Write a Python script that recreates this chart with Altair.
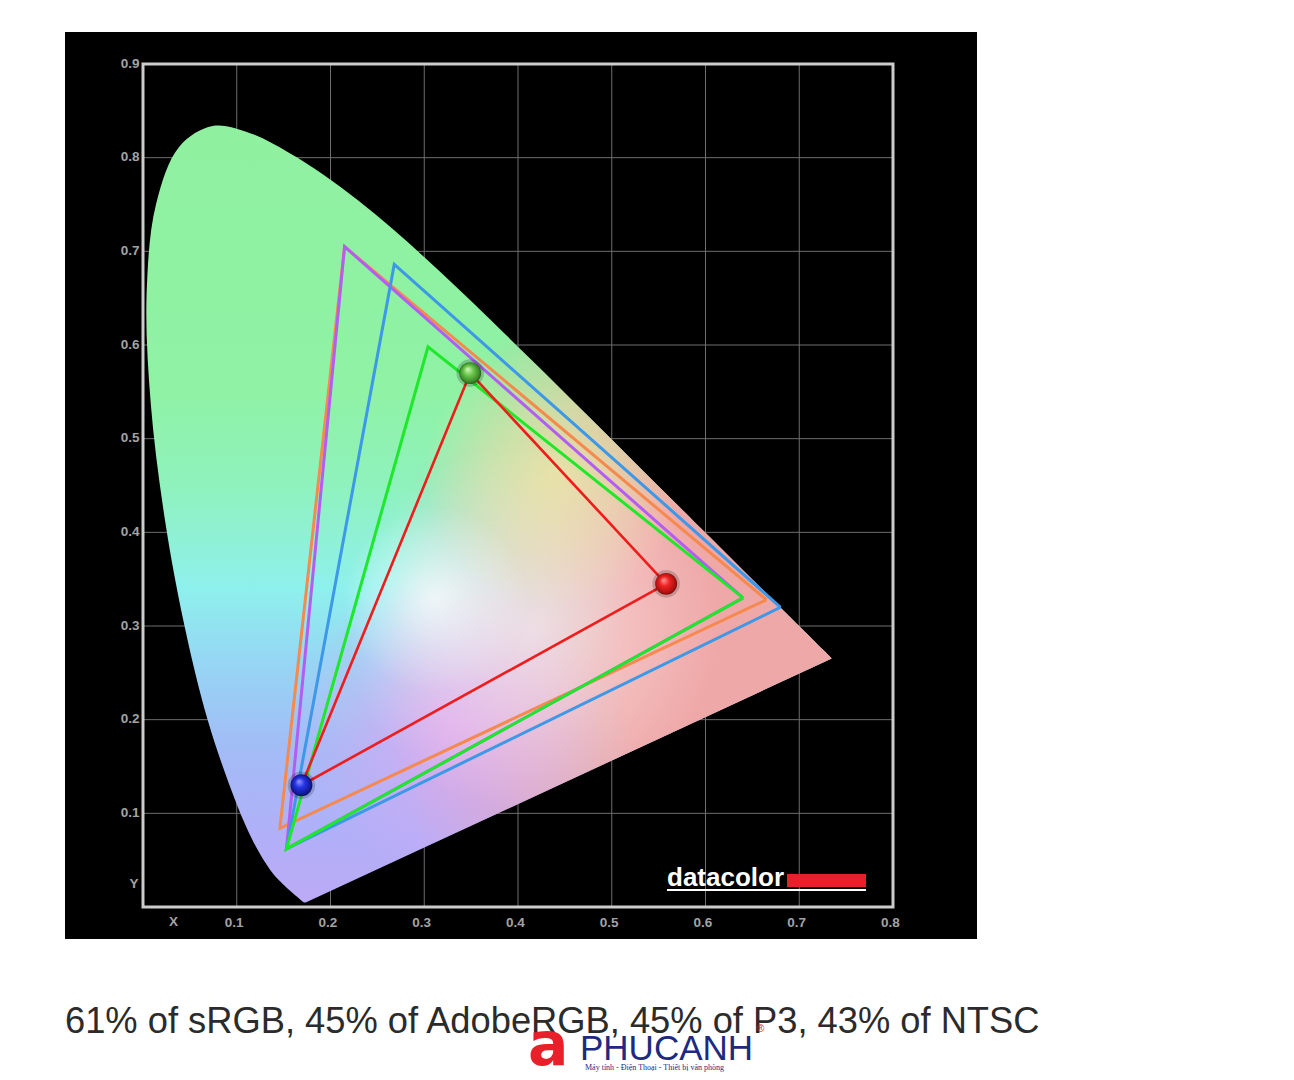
import altair as alt
import pandas as pd

# ---------------- data ----------------
# CIE 1931 spectral locus (read off the horseshoe)
locus_nm = [380, 400, 420, 430, 440, 450, 460, 465, 470, 475, 480, 485, 490, 495,
            500, 505, 510, 515, 520, 525, 530, 535, 540, 545, 550, 555, 560, 565,
            570, 575, 580, 585, 590, 595, 600, 610, 620, 630, 640, 650, 700]
locus_x = [0.1741, 0.1733, 0.1714, 0.1689, 0.1644, 0.1566, 0.1440, 0.1355, 0.1241,
           0.1096, 0.0913, 0.0687, 0.0454, 0.0235, 0.0082, 0.0039, 0.0139, 0.0389,
           0.0743, 0.1142, 0.1547, 0.1929, 0.2296, 0.2658, 0.3016, 0.3373, 0.3731,
           0.4087, 0.4441, 0.4788, 0.5125, 0.5448, 0.5752, 0.6029, 0.6270, 0.6658,
           0.6915, 0.7079, 0.7190, 0.7260, 0.7347]
locus_y = [0.0050, 0.0048, 0.0051, 0.0069, 0.0109, 0.0177, 0.0297, 0.0399, 0.0578,
           0.0868, 0.1327, 0.2007, 0.2950, 0.4127, 0.5384, 0.6548, 0.7502, 0.8120,
           0.8338, 0.8262, 0.8059, 0.7816, 0.7543, 0.7243, 0.6923, 0.6589, 0.6245,
           0.5896, 0.5547, 0.5202, 0.4866, 0.4544, 0.4242, 0.3965, 0.3725, 0.3340,
           0.3083, 0.2920, 0.2809, 0.2740, 0.2653]

# gamut triangles (draw order)
gamut_names = ["NTSC", "AdobeRGB", "P3", "sRGB", "Display"]
gamut_colors = ["#f5894e", "#b25ef2", "#3d98e8", "#1ee82a", "#f01c1c"]
red_x = [0.665, 0.640, 0.680, 0.640, 0.558]
red_y = [0.328, 0.330, 0.320, 0.330, 0.345]
green_x = [0.215, 0.215, 0.268, 0.304, 0.349]
green_y = [0.705, 0.705, 0.686, 0.598, 0.570]
blue_x = [0.146, 0.153, 0.153, 0.153, 0.169]
blue_y = [0.084, 0.062, 0.062, 0.062, 0.130]

x_ticks = [0.1, 0.2, 0.3, 0.4, 0.5, 0.6, 0.7, 0.8]
y_ticks = [0.1, 0.2, 0.3, 0.4, 0.5, 0.6, 0.7, 0.8, 0.9]
grid_x = [0.1, 0.2, 0.3, 0.4, 0.5, 0.6, 0.7]
grid_y = [0.1, 0.2, 0.3, 0.4, 0.5, 0.6, 0.7, 0.8]

caption = "61% of sRGB, 45% of AdobeRGB, 45% of P3, 43% of NTSC"
brand = "datacolor"
wm_name = "PHUCANH"
wm_sub = "Máy tính - Điện Thoại - Thiết bị văn phòng"

# ---------------- tables ----------------
df_locus = pd.DataFrame({"i": list(range(len(locus_nm))), "nm": locus_nm,
                         "x": locus_x, "y": locus_y})
rows = []
for k, n in enumerate(gamut_names):
    pts = [(red_x[k], red_y[k]), (green_x[k], green_y[k]),
           (blue_x[k], blue_y[k]), (red_x[k], red_y[k])]
    for j, (px, py) in enumerate(pts):
        rows.append({"name": n, "o": j, "x": px, "y": py})
df_tri = pd.DataFrame(rows)
one = pd.DataFrame({"a": [0]})

W, H = 750, 843
xs = alt.Scale(domain=[0, 0.8], nice=False, zero=False)
ys = alt.Scale(domain=[0, 0.9], nice=False, zero=False)
LBL = "#a3a3a3"
common = dict(grid=False, domain=False, ticks=False, labelFlush=False, labelOverlap=False,
              labelColor=LBL, labelFont="Liberation Sans", labelFontSize=13.5,
              labelFontWeight="bold", titleColor=LBL, titleFont="Liberation Sans",
              titleFontSize=13.5, titleFontWeight="bold", zindex=1, format=".1f")
xaxis = alt.Axis(values=x_ticks, labelPadding=8, labelOffset=-3, title="X",
                 titleX=30, titleY=14, titleBaseline="middle", titleAlign="center",
                 **common)
yaxis = alt.Axis(values=y_ticks, labelPadding=4, labelOffset=-1, title="Y", titleAngle=0,
                 titleX=-5, titleY=819, titleBaseline="middle", titleAlign="right",
                 **common)


def X(f):
    return alt.X(f, type="quantitative", scale=xs, axis=xaxis)


def Y(f):
    return alt.Y(f, type="quantitative", scale=ys, axis=yaxis)


def stops(lst):
    return [alt.GradientStop(offset=o, color=c) for o, c in lst]


layers = []

# black panel
layers.append(alt.Chart(one).mark_rect(color="black").encode(
    x=alt.value(-78), x2=alt.value(834), y=alt.value(-32), y2=alt.value(875)))

# grid
layers.append(alt.Chart(pd.DataFrame({"x": grid_x})).mark_rule(
    color="#6e6e6e", strokeWidth=1).encode(x=X("x")))
layers.append(alt.Chart(pd.DataFrame({"y": grid_y})).mark_rule(
    color="#6e6e6e", strokeWidth=1).encode(y=Y("y")))

# frame
layers.append(alt.Chart(pd.DataFrame({"x0": [0.0], "x1": [0.8], "y0": [0.0], "y1": [0.9]}))
              .mark_rect(filled=False, stroke="#cccccc", strokeWidth=3)
              .encode(x=X("x0"), x2="x1", y=Y("y0"), y2="y1"))

# horseshoe fills
base_grad = alt.LinearGradient(gradient="linear", x1=0, y1=0, x2=0, y2=1, stops=stops([
    (0.0, "#8ff1a0"), (0.34, "#8ff2a4"), (0.46, "#8ff2bc"), (0.596, "#8ef0ec"),
    (0.69, "#96d6f4"), (0.80, "#a2bcf6"), (0.91, "#b0b0f8"), (1.0, "#bcaaf6")]))


def radial(cx, cy, r, rgb, alphas):
    return alt.RadialGradient(gradient="radial", x1=cx, y1=cy, r1=0, x2=cx, y2=cy, r2=r,
                              stops=stops([(o, f"rgba({rgb},{a})") for o, a in alphas]))


fills = [
    base_grad,
    radial(0.98, 0.68, 0.62, "239,168,168", [(0, 1), (0.5, 1), (0.75, 0.6), (1, 0)]),
    radial(0.45, 0.77, 0.2, "242,160,240", [(0, 0.65), (0.5, 0.35), (1, 0)]),
    radial(0.555, 0.645, 0.24, "255,255,255", [(0, 0.55), (0.5, 0.28), (1, 0)]),
    radial(0.585, 0.45, 0.17, "247,242,160", [(0, 0.6), (0.5, 0.33), (1, 0)]),
    radial(0.43, 0.61, 0.12, "255,255,255", [(0, 0.7), (0.5, 0.3), (1, 0)]),
]
for g in fills:
    layers.append(alt.Chart(df_locus).mark_line(
        fill=g, strokeOpacity=0, strokeWidth=0, interpolate="catmull-rom").encode(
        x=X("x"), y=Y("y"), order=alt.Order("i:Q")))

# gamut triangles
for n, c in zip(gamut_names, gamut_colors):
    layers.append(alt.Chart(df_tri).transform_filter(alt.datum.name == n).mark_line(
        color=c, strokeWidth=2.6 if n == "Display" else 3, strokeJoin="miter",
        strokeMiterLimit=10).encode(x=X("x"), y=Y("y"), order=alt.Order("o:Q")))

# measured primaries (balls)
ball_specs = [
    (red_x[-1], red_y[-1], ["#ff9a9a", "#ee2222", "#b01212", "#5a0808"]),
    (green_x[-1], green_y[-1], ["#d8f8c0", "#6cc84c", "#3a8a28", "#1c4010"]),
    (blue_x[-1], blue_y[-1], ["#9a9aff", "#2434e6", "#121a96", "#060a40"]),
]
for bx, by, cols in ball_specs:
    dfb = pd.DataFrame({"x": [bx], "y": [by]})
    layers.append(alt.Chart(dfb).mark_circle(size=760, color="#000000", opacity=0.18)
                  .encode(x=X("x"), y=Y("y")))
    g = alt.RadialGradient(gradient="radial", x1=0.38, y1=0.32, r1=0, x2=0.5, y2=0.5,
                           r2=0.55, stops=stops([(0, cols[0]), (0.4, cols[1]),
                                                 (0.8, cols[2]), (1, cols[3])]))
    layers.append(alt.Chart(dfb).mark_circle(size=480, fill=g, opacity=1)
                  .encode(x=X("x"), y=Y("y")))

# datacolor logo
layers.append(alt.Chart(pd.DataFrame({"t": [brand]})).mark_text(
    color="white", font="Liberation Sans", fontSize=26, fontWeight="bold",
    align="left", baseline="alphabetic").encode(
    text="t:N", x=alt.value(524), y=alt.value(822)))
layers.append(alt.Chart(one).mark_rect(color="#e8202a").encode(
    x=alt.value(644), x2=alt.value(723), y=alt.value(810), y2=alt.value(823)))
layers.append(alt.Chart(one).mark_rect(color="white").encode(
    x=alt.value(524), x2=alt.value(723), y=alt.value(825), y2=alt.value(827)))

# caption
layers.append(alt.Chart(pd.DataFrame({"t": [caption]})).mark_text(
    color="#2b2b2b", font="Liberation Sans", fontSize=36.3, align="left",
    baseline="alphabetic").encode(text="t:N", x=alt.value(-78), y=alt.value(969)))

# watermark
layers.append(alt.Chart(pd.DataFrame({"t": ["a"]})).mark_text(
    color="#e8202a", font="DejaVu Sans", fontSize=60, fontWeight="bold", align="left",
    baseline="alphabetic").encode(text="t:N", x=alt.value(385), y=alt.value(1001)))
layers.append(alt.Chart(pd.DataFrame({"t": [wm_name]})).mark_text(
    color="#1d2a80", font="Liberation Sans", fontSize=35, align="left",
    baseline="alphabetic").encode(text="t:N", x=alt.value(437), y=alt.value(996)))
layers.append(alt.Chart(pd.DataFrame({"t": ["®"]})).mark_text(
    color="#e8202a", font="Liberation Sans", fontSize=10, align="left",
    baseline="middle").encode(text="t:N", x=alt.value(614), y=alt.value(965)))
layers.append(alt.Chart(pd.DataFrame({"t": [wm_sub]})).mark_text(
    color="#1d2a80", font="Liberation Serif", fontSize=8, align="left",
    baseline="alphabetic").encode(text="t:N", x=alt.value(442), y=alt.value(1006)))

chart = alt.layer(*layers).properties(
    width=W, height=H, background="white",
    padding={"left": 135, "top": 56, "right": 380, "bottom": 172},
    autosize=alt.AutoSizeParams(type="none"),
).configure_view(strokeOpacity=0)

chart.save("out.html", embed_options={"renderer": "svg", "actions": False})
